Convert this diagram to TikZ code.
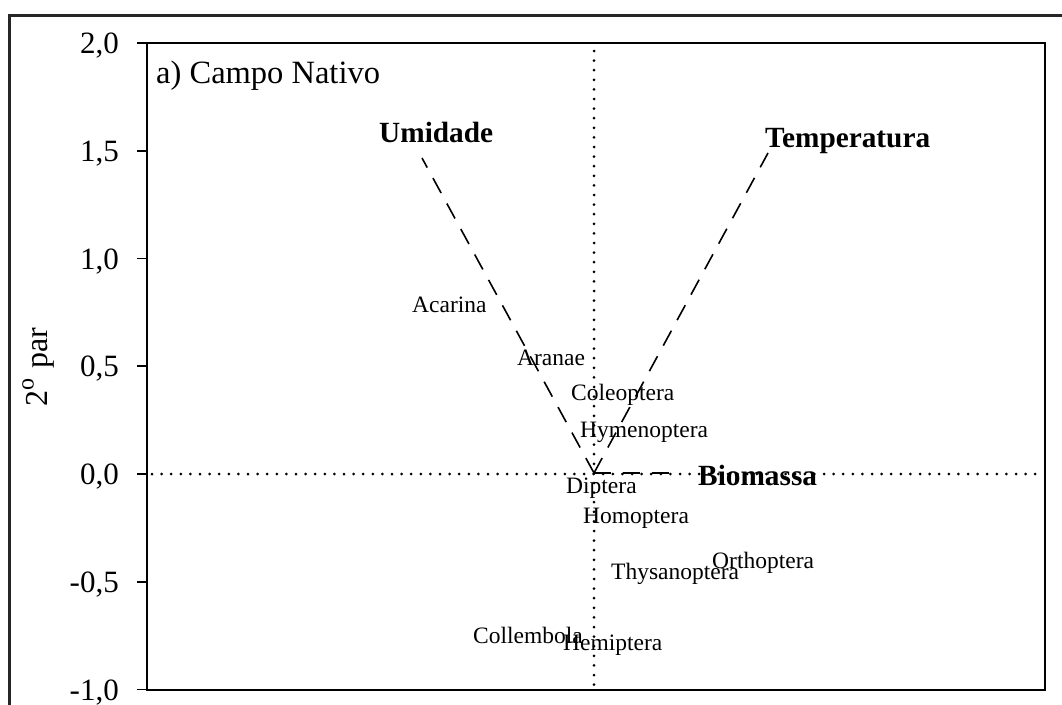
\documentclass[tikz,border=0pt]{standalone}
\usepackage{fontspec}
\setmainfont{Liberation Serif}
\begin{document}
\begin{tikzpicture}[x=1pt,y=-1pt,
  ticklab/.style={font=\fontsize{31}{36}\selectfont, anchor=base east, inner sep=0pt},
  species/.style={font=\fontsize{23.5}{28}\selectfont, anchor=base west, inner sep=0pt},
  varlab/.style={font=\fontsize{29.3}{34}\selectfont\bfseries, anchor=base west, inner sep=0pt},
  dotline/.style={line width=3pt, line cap=round, dash pattern=on 0pt off 9.6pt},
  vecline/.style={line width=1.6pt, dash pattern=on 17pt off 12pt},
  frame/.style={line width=3pt, draw=black!85},
  axisbox/.style={line width=1.8pt, draw=black}]
\useasboundingbox (0,0) rectangle (1062,704);
% outer frame
\draw[frame] (9,15) rectangle (1080,720);
% plot box
\draw[axisbox] (147,43) rectangle (1045,690);
% ticks and labels
\foreach \v [count=\i from 0] in {2{,}0,1{,}5,1{,}0,0{,}5,0{,}0,-0{,}5,-1{,}0}{
  \pgfmathsetmacro{\yy}{43+\i*107.75}
  \draw[line width=1.8pt] (137,\yy) -- (147,\yy);
  \node[ticklab] (t\i) at (119,\yy+10.5) {\v};
}
% axis title
\node[font=\fontsize{32}{36}\selectfont, anchor=base, rotate=90, inner sep=0pt] (ylab) at (47,367)
  {2\raisebox{0.42em}{\fontsize{24}{24}\selectfont o}\hspace{0.3em}par};
% panel title
\node[font=\fontsize{32.5}{38}\selectfont, anchor=base west, inner sep=0pt] (title) at (156,83) {a) Campo Nativo};
% dotted axes
\coordinate (vtop) at (594,51);
\coordinate (vbot) at (594,692);
\coordinate (hl) at (152,474);
\coordinate (hr) at (1040,474);
\draw[dotline] (vtop) -- (vbot);
\draw[dotline] (hl) -- (hr);
% vectors
\coordinate (O) at (594,473);
\coordinate (U) at (422,158);
\coordinate (T) at (768,153);
\coordinate (B) at (670,473);
\draw[vecline] (O) -- (U);
\draw[vecline] (O) -- (T);
\draw[vecline] (O) -- (B);
% variable labels
\node[varlab] (umid) at (379,142) {Umidade};
\node[varlab] (temp) at (765,147) {Temperatura};
\node[varlab] (biom) at (698,485) {Biomassa};
% species
\node[species] (acar) at (412,312) {Acarina};
\node[species] (aran) at (517,365) {Aranae};
\node[species] (cole) at (571,400) {Coleoptera};
\node[species] (hyme) at (580,437) {Hymenoptera};
\node[species] (dipt) at (566,493) {Diptera};
\node[species] (homo) at (583,523) {Homoptera};
\node[species] (thys) at (611,579) {Thysanoptera};
\node[species] (orth) at (712,568) {Orthoptera};
\node[species] (coll) at (473,643) {Collembola};
\node[species] (hemi) at (563,650) {Hemiptera};
\end{tikzpicture}
\end{document}
